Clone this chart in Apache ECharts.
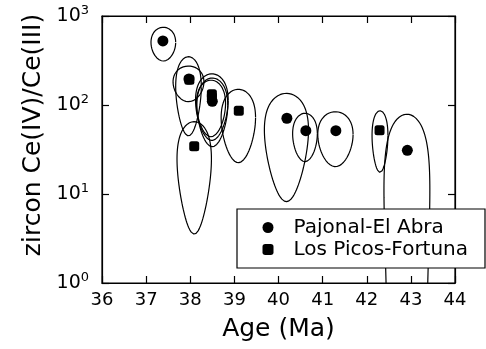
<!DOCTYPE html>
<html>
<head>
<meta charset="utf-8">
<script src="https://cdn.jsdelivr.net/npm/echarts@6/dist/echarts.min.js"></script>
<style>
html,body{margin:0;padding:0;background:#fff;}
#chart{width:486px;height:349px;}
</style>
</head>
<body>
<div id="chart"></div>
<script>
// ---- data ----
const xTicks = [36, 37, 38, 39, 40, 41, 42, 43, 44];
const yTickExponents = [0, 1, 2, 3];

// Pajonal-El Abra (circles): age (Ma), Ce(IV)/Ce(III)
const pajAge = [37.38, 37.97, 38.50, 40.19, 40.62, 41.30, 42.92];
const pajVal = [524, 196, 110, 71, 51.5, 51.5, 31];

// Los Picos-Fortuna (squares)
const lpfAge = [37.98, 38.09, 38.49, 38.49, 39.10, 42.29];
const lpfVal = [192, 34.5, 132, 122, 86, 52];

// uncertainty envelopes: centre age, half-width (Ma), top and bottom value of the envelope
const ellAge = [37.39, 37.96, 37.96, 38.49, 38.50, 38.47, 38.09, 39.09, 40.18, 40.60, 41.29, 42.30, 42.91];
const ellA   = [0.28, 0.29, 0.35, 0.37, 0.35, 0.33, 0.39, 0.39, 0.50, 0.28, 0.40, 0.18, 0.52];
const ellTop = [747, 349, 274, 224, 201, 190, 65, 150, 135, 80.7, 84, 86.3, 78.7];
const ellBot = [312, 45, 109, 40, 34, 44, 3.55, 22.5, 8.2, 23.1, 20.3, 17.5, -5];

const legendNames = ['Pajonal-El Abra', 'Los Picos-Fortuna'];

// ---- build ----
// envelope is an ellipse in square-root space of the ratio
function sroot(v) { return v >= 0 ? Math.sqrt(v) : -Math.sqrt(-v); }
function envelope(cx, a, top, bot) {
  const ut = sroot(top), ub = sroot(bot);
  const cu = (ut + ub) / 2, bu = (ut - ub) / 2;
  const pts = [];
  const N = 720;
  for (let i = 0; i <= N; i++) {
    const t = 2 * Math.PI * i / N;
    const u = cu + bu * Math.sin(t);
    let v = u > 0 ? u * u : 0;
    if (v <= 0.0001) v = 0.0001;
    pts.push([cx + a * Math.cos(t), v]);
  }
  return pts;
}

const series = [];
for (let i = 0; i < ellAge.length; i++) {
  series.push({
    type: 'line',
    data: envelope(ellAge[i], ellA[i], ellTop[i], ellBot[i]),
    showSymbol: false,
    symbol: 'none',
    silent: true,
    clip: true,
    lineStyle: { color: '#000', width: 1.2 },
    z: 1
  });
}

series.push({
  name: legendNames[1],
  type: 'scatter',
  symbol: 'roundRect',
  symbolSize: 10,
  itemStyle: { color: '#000', opacity: 1 },
  data: lpfAge.map((a, i) => [a, lpfVal[i]]),
  z: 3
});
series.push({
  name: legendNames[0],
  type: 'scatter',
  symbol: 'circle',
  symbolSize: 11,
  itemStyle: { color: '#000', opacity: 1 },
  data: pajAge.map((a, i) => [a, pajVal[i]]),
  z: 3
});

const FONT = 'DejaVu Sans';
const chart = echarts.init(document.getElementById('chart'), null, { renderer: 'canvas' });
const option = {
  animation: false,
  backgroundColor: '#fff',
  grid: { left: 102, right: 31, top: 16, bottom: 66, show: true, borderColor: '#000', borderWidth: 1.2, backgroundColor: 'transparent' },
  xAxis: [{
    type: 'value', min: xTicks[0], max: xTicks[xTicks.length - 1], interval: 1,
    position: 'bottom',
    axisLine: { show: true, lineStyle: { color: '#000', width: 1.2 } },
    axisTick: { show: true, inside: true, length: 7, lineStyle: { color: '#000', width: 1.2 } },
    axisLabel: { color: '#000', fontSize: 18, fontFamily: FONT, margin: 8 },
    splitLine: { show: false },
    name: 'Age (Ma)', nameLocation: 'middle', nameGap: 34,
    nameTextStyle: { color: '#000', fontSize: 25, fontFamily: FONT }
  }, {
    type: 'value', min: xTicks[0], max: xTicks[xTicks.length - 1], interval: 1,
    position: 'top',
    axisLine: { show: true, lineStyle: { color: '#000', width: 1.2 } },
    axisTick: { show: true, inside: true, length: 7, lineStyle: { color: '#000', width: 1.2 } },
    axisLabel: { show: false },
    splitLine: { show: false }
  }],
  yAxis: [{
    type: 'log', logBase: 10, min: Math.pow(10, yTickExponents[0]), max: Math.pow(10, yTickExponents[yTickExponents.length - 1]),
    position: 'left',
    axisLine: { show: true, lineStyle: { color: '#000', width: 1.2 } },
    axisTick: { show: true, inside: true, length: 7, lineStyle: { color: '#000', width: 1.2 } },
    minorTick: { show: false },
    splitLine: { show: false },
    axisLabel: {
      margin: 13,
      formatter: function (v) {
        const e = Math.round(Math.log10(v));
        return '{b|10}{s|' + e + '}';
      },
      rich: {
        b: { fontSize: 19, fontFamily: FONT, color: '#000' },
        s: { fontSize: 13, fontFamily: FONT, color: '#000', padding: [0, 0, 11, 0] }
      }
    },
    name: 'zircon Ce(IV)/Ce(III)', nameLocation: 'middle', nameGap: 55,
    nameTextStyle: { color: '#000', fontSize: 25, fontFamily: FONT, padding: [0, 0, 0, 29] }
  }, {
    type: 'log', logBase: 10, min: 1, max: 1000,
    position: 'right',
    axisLine: { show: true, lineStyle: { color: '#000', width: 1.2 } },
    axisTick: { show: true, inside: true, length: 7, lineStyle: { color: '#000', width: 1.2 } },
    minorTick: { show: false },
    splitLine: { show: false },
    axisLabel: { show: false }
  }],
  graphic: [{
    type: 'rect',
    shape: { x: 237, y: 209, width: 248, height: 59 },
    style: { fill: '#fff', stroke: '#000', lineWidth: 1.2 },
    z: 50
  }],
  legend: {
    orient: 'vertical',
    left: 262.5,
    top: 217.5,
    padding: 0,
    itemGap: 2,
    itemWidth: 11,
    itemHeight: 11,
    z: 60,
    data: [
      { name: legendNames[0], icon: 'circle', itemStyle: { color: '#000', opacity: 1 } },
      { name: legendNames[1], icon: 'roundRect', itemStyle: { color: '#000', opacity: 1 } }
    ],
    textStyle: { color: '#000', fontSize: 20, fontFamily: FONT, lineHeight: 20, padding: [0, 0, 0, 15] }
  },
  series: series
};
chart.setOption(option);
</script>
</body>
</html>
